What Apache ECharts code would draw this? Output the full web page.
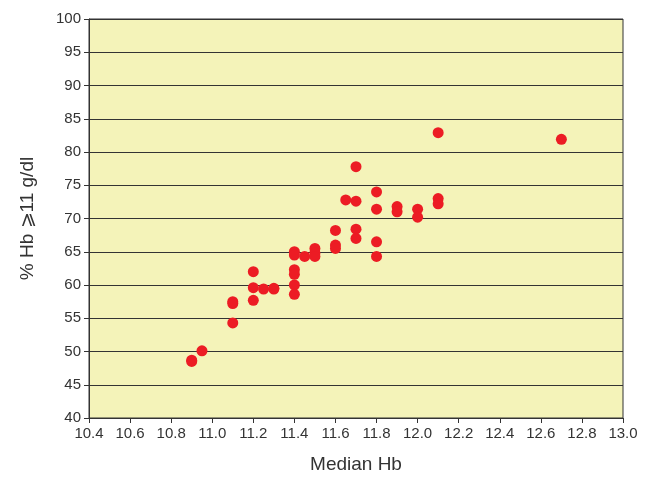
<!DOCTYPE html>
<html><head><meta charset="utf-8">
<script src="https://cdn.jsdelivr.net/npm/echarts@6/dist/echarts.min.js"></script>
<style>html,body{margin:0;background:#fff}#c{width:653px;height:483px}</style>
</head><body><div id="c"></div>
<script>
var medianHb = [10.9,10.9,10.95,11.1,11.1,11.1,11.2,11.2,11.2,11.25,11.3,11.3,11.4,11.4,11.4,11.4,11.4,11.4,11.45,11.5,11.5,11.5,11.6,11.6,11.6,11.65,11.7,11.7,11.7,11.7,11.8,11.8,11.8,11.8,11.9,11.9,12.0,12.0,12.1,12.1,12.1,12.7];
var pctHb = [48.7,48.5,50.1,57.5,57.2,54.3,62,59.6,57.7,59.4,59.5,59.4,65,64.5,62.3,61.6,60,58.6,64.3,65.5,64.8,64.3,68.2,66,65.5,72.8,77.8,72.6,68.4,67,74,71.4,66.5,64.3,71.8,71,71.4,70.2,73,72.2,82.9,81.9];
var pts = medianHb.map(function(x,i){return [x,pctHb[i]];});
var chart = echarts.init(document.getElementById('c'));
chart.setOption({
  animation:false,
  grid:{left:89,right:30,top:19,bottom:65,show:true,backgroundColor:'#f4f3b9',borderColor:'#333',borderWidth:1},
  xAxis:{type:'value',min:10.4,max:13.0,interval:0.2,name:'Median Hb',nameLocation:'middle',nameGap:37,
    nameTextStyle:{fontSize:19,color:'#333',fontFamily:'Liberation Sans'},
    axisLine:{lineStyle:{color:'#333'}},axisTick:{show:true,inside:false,length:5,lineStyle:{color:'#333'}},
    axisLabel:{color:'#333',fontSize:15,fontFamily:'Liberation Sans',formatter:function(v){return v.toFixed(1);}},
    splitLine:{show:false}},
  yAxis:{type:'value',min:40,max:100,interval:5,name:'% Hb \u2a7e11 g/dl',nameLocation:'middle',nameGap:52,
    nameTextStyle:{fontSize:19,color:'#333',fontFamily:'Liberation Sans'},
    axisLine:{show:true,lineStyle:{color:'#333'}},axisTick:{show:true,length:5,lineStyle:{color:'#333'}},
    axisLabel:{color:'#333',fontSize:15,fontFamily:'Liberation Sans'},
    splitLine:{show:true,lineStyle:{color:'#333',width:1}}},
  series:[{type:'scatter',data:pts,symbolSize:11,itemStyle:{color:'#ec1c24',opacity:1}}]
});
</script></body></html>
